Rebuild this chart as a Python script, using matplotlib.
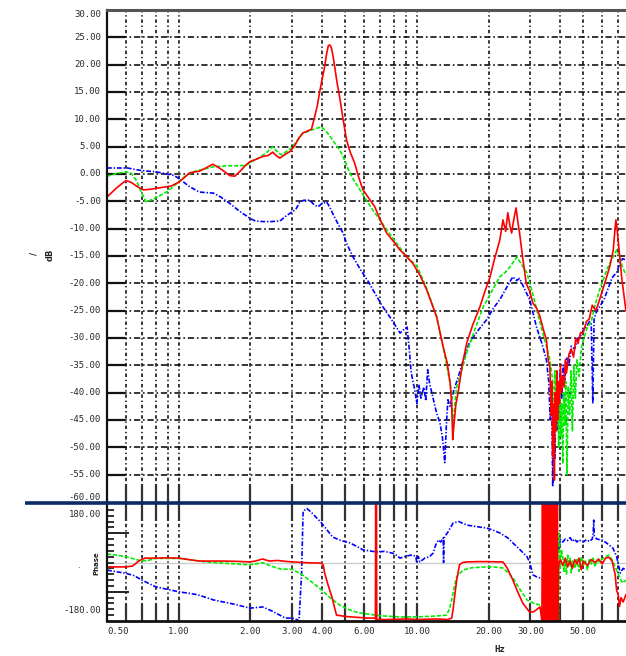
import matplotlib
matplotlib.use('Agg')
import matplotlib.pyplot as plt
from matplotlib.lines import Line2D
from matplotlib.ticker import NullLocator
from matplotlib.transforms import blended_transform_factory

plt.rcParams['lines.scale_dashes'] = False

# ---------------- data ----------------
red_mag_f = [0.5, 0.55, 0.6, 0.63, 0.67, 0.71, 0.76, 0.81, 0.87, 0.93, 1.0, 1.06, 1.11, 1.17, 1.22, 1.3, 1.39,
             1.47, 1.55, 1.64, 1.72, 1.82, 1.92, 2.0, 2.12, 2.25, 2.38, 2.48, 2.58, 2.66, 2.8, 2.93, 3.05, 3.2,
             3.32, 3.45, 3.61, 3.72, 3.82, 3.9, 4.0, 4.1, 4.18, 4.25, 4.32, 4.38, 4.45, 4.52, 4.62, 4.74, 4.9,
             5.07, 5.25, 5.48, 5.7, 5.94, 6.3, 6.66, 7.0, 7.47, 7.9, 8.5, 9.0, 9.6, 10.3, 11.0, 12.1, 12.9, 13.4,
             13.8, 14.0, 14.15, 14.3, 14.6, 14.9, 15.5, 16.2, 17.2, 18.4, 19.3, 20.3, 21.2, 22.3, 23.0, 23.6,
             24.1, 24.6, 25.0, 25.6, 26.1, 26.6, 27.0, 27.9, 28.8, 29.8, 30.7, 31.8, 32.9, 34.0, 35.0, 35.6,
             36.2, 36.6, 36.9, 37.2, 37.5, 37.8, 38.1, 38.4, 38.7, 39.0, 39.3, 39.7, 40.1, 40.5, 41.0, 41.5,
             42.0, 42.5, 43.5, 44.5, 45.5, 46.5, 47.5, 48.7, 49.9, 51.5, 53.0, 54.5, 56.5, 58.5, 60.5, 62.5,
             64.5, 66.8, 67.8, 68.5, 69.3, 70.0, 71.0, 72.5, 74.0, 75.5]
red_mag_db = [-4.2, -2.5, -1.2, -1.5, -2.3, -2.9, -2.8, -2.6, -2.4, -2.2, -1.5, -0.6, 0.2, 0.4, 0.5, 1.1, 1.8,
              1.2, 0.5, -0.3, -0.4, 0.6, 1.7, 2.3, 2.7, 3.2, 3.4, 4.0, 3.3, 2.9, 3.6, 4.1, 5.0, 6.6,
              7.5, 7.8, 8.2, 10.4, 12.5, 14.8, 17.3, 19.6, 22.0, 23.5, 23.6, 23.0, 21.5, 19.6, 16.8, 14.1, 10.0,
              6.2, 4.0, 2.0, -0.6, -2.9, -4.5, -6.0, -8.3, -10.8, -12.1, -13.9, -15.0, -16.3, -18.5, -21.2, -26.1,
              -31.6, -34.5, -38.2, -42.0, -48.6, -46.0, -42.0, -40.0, -35.0, -30.9, -27.5, -24.3, -21.5, -18.8,
              -15.5, -12.1, -8.4, -10.5, -7.1, -9.5, -10.8, -8.0, -6.2, -9.0, -10.8, -15.7, -20.0, -21.5, -23.6,
              -24.5, -26.1, -28.5, -30.3, -34.0, -35.3, -44.0, -38.0, -51.7, -42.0, -56.0, -40.0, -47.0, -36.0,
              -45.0, -38.0, -42.0, -35.0, -40.0, -37.0, -39.0, -34.0, -36.4, -33.0, -32.0, -33.5, -30.0, -31.0,
              -29.0, -29.1, -27.0, -26.5, -24.0, -25.0, -23.0, -21.0, -19.0, -17.0, -13.9, -10.5, -8.4, -10.0,
              -12.0, -15.0, -19.0, -22.0, -25.0]

green_mag_f = [0.5, 0.55, 0.6, 0.63, 0.66, 0.7, 0.73, 0.78, 0.83, 0.89, 0.95, 1.0, 1.08, 1.17, 1.22, 1.39, 1.6,
               1.8, 1.92, 2.05, 2.2, 2.35, 2.48, 2.58, 2.7, 2.85, 3.0, 3.15, 3.32, 3.55, 3.75, 3.98, 4.2, 4.43,
               4.63, 4.83, 5.03, 5.23, 5.5, 5.77, 6.1, 6.53, 7.0, 7.47, 8.2, 9.07, 10.0, 10.9, 12.1, 13.3, 14.0,
               14.2, 14.45, 14.7, 15.4, 16.2, 17.5, 19.0, 20.6, 22.3, 23.5, 24.6, 25.5, 26.3, 27.5, 29.0, 30.9,
               32.9, 34.5, 36.0, 37.0, 37.5, 38.0, 38.5, 39.0, 39.4, 39.8, 40.2, 40.6, 41.0, 41.4, 41.8, 42.2,
               42.7, 43.2, 43.8, 44.4, 45.0, 45.6, 46.3, 47.0, 48.0, 49.0, 50.0, 52.0, 54.0, 56.0, 58.5, 61.0,
               63.5, 66.0, 69.0, 71.0, 73.0, 75.5]
green_mag_db = [-0.4, 0.1, 0.4, 0.2, -1.0, -3.5, -5.1, -4.6, -4.0, -3.3, -2.3, -1.4, -0.2, 0.5, 0.7, 1.3, 1.5,
                1.5, 1.6, 2.4, 3.1, 4.0, 5.0, 4.2, 3.5, 4.2, 4.9, 6.2, 7.4, 7.9, 8.3, 8.6, 7.6, 6.2,
                5.0, 3.8, 2.0, 0.2, -1.5, -2.9, -4.6, -6.6, -8.4, -10.2, -12.6, -15.2, -16.8, -20.5, -26.0, -34.6,
                -40.0, -47.0, -42.0, -39.0, -36.0, -32.7, -28.5, -24.3, -21.5, -18.8, -18.0, -17.0, -16.0, -15.2,
                -16.5, -18.1, -22.5, -27.2, -30.5, -33.5, -37.0, -44.0, -36.0, -46.0, -40.0, -50.0, -38.0, -48.0,
                -42.0, -53.0, -40.0, -46.0, -38.0, -55.0, -39.0, -44.0, -36.0, -47.0, -35.0, -41.0, -34.0, -37.0,
                -32.0, -30.4, -28.0, -27.0, -24.0, -21.2, -19.0, -17.0, -15.5, -13.9, -15.0, -17.0, -18.5]

blue_mag_f = [0.5, 0.55, 0.61, 0.66, 0.71, 0.8, 0.9, 0.96, 1.03, 1.1, 1.22, 1.3, 1.4, 1.5, 1.64, 1.8, 1.99,
              2.1, 2.25, 2.45, 2.66, 2.8, 2.93, 3.1, 3.22, 3.35, 3.55, 3.7, 3.84, 4.0, 4.18, 4.3, 4.43, 4.65,
              4.9, 5.07, 5.4, 5.8, 6.3, 6.7, 7.2, 7.8, 8.5, 8.8, 9.1, 9.3, 9.45, 9.6, 9.8, 10.0, 10.2, 10.4,
              10.7, 10.9, 11.1, 11.3, 11.7, 12.1, 12.5, 12.8, 13.1, 13.3, 13.5, 13.8, 14.2, 15.1, 15.8, 16.6,
              18.0, 19.6, 21.0, 22.3, 23.8, 25.3, 26.2, 27.0, 28.3, 29.8, 31.8, 33.5, 35.0, 35.8, 36.3, 36.8,
              37.2, 37.6, 38.0, 38.4, 38.8, 39.2, 39.6, 40.0, 40.6, 41.2, 41.8, 42.5, 43.5, 44.5, 46.0, 47.5,
              49.0, 50.0, 51.5, 53.0, 54.0, 54.8, 55.5, 57.0, 58.5, 61.0, 63.5, 66.0, 69.0, 71.0, 73.0, 75.5]
blue_mag_db = [1.1, 1.1, 1.1, 0.8, 0.6, 0.4, 0.0, -0.3, -1.2, -2.2, -3.3, -3.4, -3.5, -4.2, -5.4, -6.8, -8.1,
               -8.6, -8.7, -8.7, -8.6, -7.8, -7.2, -6.5, -5.2, -4.8, -4.8, -5.6, -6.0, -5.4, -5.1, -6.0, -7.2,
               -9.0, -10.8, -12.7, -15.2, -17.5, -19.9, -22.0, -24.3, -26.5, -29.1, -28.5, -28.0, -32.2, -36.0,
               -37.7, -39.5, -42.0, -38.5, -41.0, -39.0, -41.5, -35.8, -38.2, -41.0, -43.7, -45.5, -48.1, -52.8,
               -46.0, -41.3, -42.5, -40.0, -36.4, -33.5, -30.9, -28.7, -26.7, -24.5, -23.0, -20.8, -18.8, -19.5,
               -19.1, -21.0, -23.0, -28.0, -31.0, -34.0, -38.0, -45.0, -40.0, -57.2, -44.0, -52.0, -40.0, -47.0,
               -38.0, -44.0, -36.0, -41.0, -35.0, -38.0, -33.5, -35.0, -31.5, -32.0, -30.0, -29.5, -28.5, -28.0,
               -27.0, -27.5, -42.0, -26.5, -25.0, -24.3, -23.0, -21.0, -19.0, -18.0, -16.5, -15.5, -15.7]

red_ph_f = [0.5, 0.6, 0.64, 0.68, 0.72, 0.8, 0.9, 1.0, 1.1, 1.22, 1.5, 1.75, 1.99, 2.1, 2.25, 2.4, 2.6, 2.8,
            3.01, 3.5, 3.98, 4.05, 4.1, 4.25, 4.4, 4.5, 4.6, 5.1, 6.2, 6.7, 6.72, 6.74, 6.76, 6.79, 7.5, 9.0,
            10.0, 12.0, 13.5, 14.0, 14.2, 14.4, 14.7, 15.1, 15.6, 16.2, 18.0, 20.0, 22.0, 23.0, 24.0, 25.3,
            26.5, 27.9, 29.8, 31.0, 32.9, 33.5, 33.7, 33.9, 34.1, 34.3, 34.5, 34.7, 34.9, 35.1, 35.3, 35.5,
            35.7, 35.9, 36.1, 36.3, 36.5, 36.7, 36.9, 37.1, 37.3, 37.5, 37.7, 37.9, 38.1, 38.3, 38.5, 38.7,
            38.9, 39.1, 39.3, 39.6, 40.0, 41.0, 42.0, 43.0, 44.0, 45.0, 46.0, 47.0, 48.0, 49.0, 50.0, 52.0,
            54.0, 56.0, 58.0, 60.0, 62.0, 64.0, 66.0, 68.0, 69.0, 70.0, 71.0, 72.0, 73.5, 75.5]
red_ph_deg = [-15, -15, -12, 5, 15, 15, 16, 15, 10, 5, 5, 4, 2, 5, 12, 5, 7, 4,
              2, -1, -2, -10, -36, -80, -118, -150, -180, -185, -190, -190, 210, -200, 210, -195, -195, -193,
              -195, -193, -195, -190, -160, -118, -60, -8, 0, 2, 3, 3, 2, 2, -20, -60,
              -100, -140, -170, -168, -152, -200, 210, -210, 210, -210, 210, -210, 210, -210, 210, -210,
              210, -210, 210, -210, 210, -210, 210, -210, 210, -210, 210, -210, 210, -210, 210, -210,
              210, -210, -20, 0, 10, -10, 15, -15, 5, -20, 10, -5, 15, -25, 5, -10,
              10, 0, 12, -5, 15, 18, 5, -40, -95, -110, -150, -120, -135, -110]

green_ph_f = [0.5, 0.55, 0.6, 0.65, 0.7, 0.75, 0.8, 1.0, 1.1, 1.3, 1.6, 1.99, 2.25, 2.5, 2.7, 3.0, 3.3, 3.6,
              3.98, 4.43, 4.8, 5.23, 5.7, 6.2, 7.0, 8.5, 10.0, 12.0, 13.3, 13.7, 14.0, 14.4, 14.7, 15.6, 17.0,
              19.6, 21.5, 23.0, 24.2, 25.3, 27.0, 29.0, 31.0, 32.9, 34.0, 35.4, 36.0, 36.3, 36.6, 36.9, 37.2,
              37.5, 37.8, 38.1, 38.4, 38.7, 39.0, 39.3, 39.6, 40.0, 40.5, 41.0, 41.5, 42.0, 42.5, 43.0, 43.5,
              44.0, 44.5, 45.0, 46.0, 47.0, 48.0, 49.0, 50.0, 51.0, 52.0, 53.0, 54.0, 55.0, 56.0, 57.0, 58.0,
              60.0, 62.0, 64.0, 66.0, 69.0, 71.0, 73.0, 75.5]
green_ph_deg = [29, 25, 20, 12, 5, 8, 14, 14, 10, 2, -3, -8, -1, -15, -23, -23, -42, -65,
                -94, -128, -148, -162, -172, -176, -182, -186, -186, -183, -180, -160, -128, -80, -49, -26, -18,
                -15, -16, -19, -35, -53, -90, -128, -140, -145, -142, -140, -160, -210, -100, -210, -60,
                -200, -120, -210, -30, -190, -50, -210, 100, -20, 40, 20, -30, 10, -40, 25, -10,
                15, -35, 5, -20, 10, -30, 20, -10, 5, -25, 10, -5, 15, -15, 10, 2,
                12, 20, 25, 10, -26, -50, -70, -60]

blue_ph_f = [0.5, 0.6, 0.65, 0.7, 0.8, 0.9, 1.0, 1.2, 1.4, 1.7, 1.99, 2.25, 2.45, 2.66, 2.8, 3.0, 3.15, 3.2,
             3.28, 3.33, 3.45, 3.6, 3.98, 4.43, 4.8, 5.23, 5.6, 5.95, 6.3, 6.77, 7.3, 7.9, 8.2, 8.5, 9.0, 9.6,
             9.9, 10.0, 10.15, 10.3, 10.8, 11.3, 11.7, 12.0, 12.3, 12.6, 12.9, 12.95, 13.0, 13.5, 14.2, 15.0,
             16.2, 18.0, 19.6, 21.0, 22.3, 24.0, 25.3, 27.0, 29.0, 29.8, 30.7, 32.0, 32.9, 34.0, 35.4, 36.0,
             36.3, 36.6, 37.0, 37.2, 37.6, 38.0, 38.4, 38.8, 39.0, 39.5, 40.0, 41.0, 42.0, 43.0, 44.0, 45.0,
             46.0, 47.0, 48.0, 49.0, 50.0, 51.5, 53.0, 54.5, 55.0, 55.3, 55.6, 57.0, 60.0, 63.0, 66.6, 69.0,
             71.5, 73.5, 75.5]
blue_ph_deg = [-26, -37, -45, -60, -83, -92, -100, -110, -128, -142, -156, -152, -165, -180, -190, -190, -196, -200,
               -40, 175, 185, 172, 135, 87, 75, 67, 55, 43, 40, 36, 38, 32, 25, 15, 22, 26,
               20, -2, 20, 2, 15, 20, 32, 60, 77, 70, 84, 0, 84, 104, 135, 140,
               128, 122, 118, 110, 101, 85, 67, 45, 20, 0, -42, -50, -53, -60, -67, -50,
               -195, -40, -70, -53, -90, -30, 10, -10, 87, 40, 80, 70, 80, 75, 85, 72,
               80, 70, 78, 72, 70, 78, 72, 80, 101, 145, 90, 80, 77, 65, 49, 20,
               -36, -20, -26]

mag_ticks = [-60, -55, -50, -45, -40, -35, -30, -25, -20, -15, -10, -5, 0, 5, 10, 15, 20, 25, 30]
phase_ticks = [-180, 180]
x_label_vals = [0.5, 1, 2, 3, 4, 6, 10, 20, 30, 50]
x_grid_vals = [0.6, 0.7, 0.8, 0.9, 1, 2, 3, 4, 5, 6, 7, 8, 9, 10, 20, 30, 40, 50, 60, 70, 80, 90]

# ---------------- figure ----------------
W, H = 626, 656
fig = plt.figure(figsize=(W / 100, H / 100), dpi=100)


def fx(px):
    return px / W


def fy(py):
    return 1 - py / H


ax1 = fig.add_axes([fx(107), fy(502), (655 - 107) / W, (502 - 10) / H])
ax2 = fig.add_axes([fx(107), fy(621), (655 - 107) / W, (621 - 504) / H])

grid_ls = (0, (4.5, 2.0, 1.2, 2.0))
vgrid_ls = (0, (2.5, 2.0, 1.0, 2.0))
green_ls = (0, (3.0, 1.3))
blue_ls = (0, (3.5, 1.3, 1.0, 1.3))
tick_font = dict(family='DejaVu Sans Mono', size=6.5, color='#2b2b2b')

for ax in (ax1, ax2):
    ax.set_xscale('log')
    ax.set_xlim(0.5, 100)
    ax.xaxis.set_minor_locator(NullLocator())
    ax.set_xticks(x_grid_vals)
    ax.set_xticklabels([])
    ax.spines['right'].set_visible(False)
    ax.spines['left'].set_linewidth(1.6)
    ax.spines['left'].set_color('#111111')
    ax.grid(True, axis='x', color='black', lw=1.1, linestyle=vgrid_ls)

# top panel
ax1.set_ylim(-60, 30)
ax1.set_yticks(mag_ticks[1:-1])
ax1.set_yticklabels([])
ax1.grid(True, axis='y', color='black', lw=1.1, linestyle=grid_ls)
ax1.spines['top'].set_color('#555555')
ax1.spines['top'].set_linewidth(2.2)
ax1.spines['bottom'].set_visible(False)
ax1.tick_params(axis='y', direction='in', length=13, width=1.6, color='#111111', left=True, right=False)
ax1.tick_params(axis='x', direction='in', length=13, width=1.6, color='#333333', bottom=True, top=False)

ax1.plot(blue_mag_f, blue_mag_db, color='#0000ff', lw=1.2, linestyle=blue_ls)
ax1.plot(green_mag_f, green_mag_db, color='#00ee00', lw=1.2, linestyle=green_ls)
ax1.plot(red_mag_f, red_mag_db, color='#ff0000', lw=1.2)

tr1 = blended_transform_factory(fig.transFigure, ax1.transData)
for v in mag_ticks:
    va = 'center'
    if v == max(mag_ticks):
        va = 'top'
    elif v == min(mag_ticks):
        va = 'bottom'
    ax1.text(fx(101), v, f"{v:.2f}", transform=tr1, ha='right', va=va, **tick_font)

# bottom panel
ax2.set_ylim(-200, 200)
ax2.set_yticks([-100, 100])
ax2.set_yticks(list(range(-180, 200, 20)), minor=True)
ax2.set_yticklabels([])
ax2.spines['top'].set_visible(False)
ax2.spines['bottom'].set_linewidth(2.0)
ax2.spines['bottom'].set_color('#111111')
ax2.tick_params(axis='y', which='major', direction='in', length=15.5, width=1.3, color='#111111')
ax2.tick_params(axis='y', which='minor', direction='in', length=5, width=1.2, color='#111111')
ax2.tick_params(axis='x', direction='in', length=12, width=1.6, color='#333333', bottom=True, top=True)
ax2.axhline(0, color='#cccccc', lw=1.0, zorder=1)

ax2.plot(blue_ph_f, blue_ph_deg, color='#0000ff', lw=1.2, linestyle=blue_ls)
ax2.plot(green_ph_f, green_ph_deg, color='#00ee00', lw=1.2, linestyle=green_ls)
ax2.plot(red_ph_f, red_ph_deg, color='#ff0000', lw=1.2)

tr2 = blended_transform_factory(fig.transFigure, ax2.transData)
ax2.text(fx(101), 180, "180.00", transform=tr2, ha='right', va='top', **tick_font)
ax2.text(fx(101), -180, "-180.00", transform=tr2, ha='right', va='bottom', **tick_font)

trx = blended_transform_factory(ax2.transData, fig.transFigure)
for v in x_label_vals:
    ha = 'left' if v == min(x_label_vals) else 'center'
    ax2.text(v, fy(632), f"{v:.2f}", transform=trx, ha=ha, va='center', **tick_font)

# axis titles
fig.text(fx(500), fy(650), "Hz", ha='center', va='center', family='DejaVu Sans Mono',
         size=6.5, weight='bold', color='#222222')
fig.text(fx(50), fy(255), "dB", ha='center', va='center', rotation=90, size=6,
         weight='bold', color='#222222')
fig.text(fx(34), fy(253), "/", ha='center', va='center', rotation=90, size=6,
         weight='bold', color='#222222')
fig.text(fx(96), fy(563), "Phase", ha='center', va='center', rotation=90, size=5,
         weight='bold', color='#222222')
fig.text(fx(78), fy(565), ".", ha='center', va='center', size=6, color='#222222')

# separator between panels
fig.add_artist(Line2D([fx(25), 1.0], [fy(503), fy(503)], transform=fig.transFigure,
                      color='#0b2b66', lw=2.6, solid_capstyle='butt'))

fig.savefig('out.png', dpi=100)
